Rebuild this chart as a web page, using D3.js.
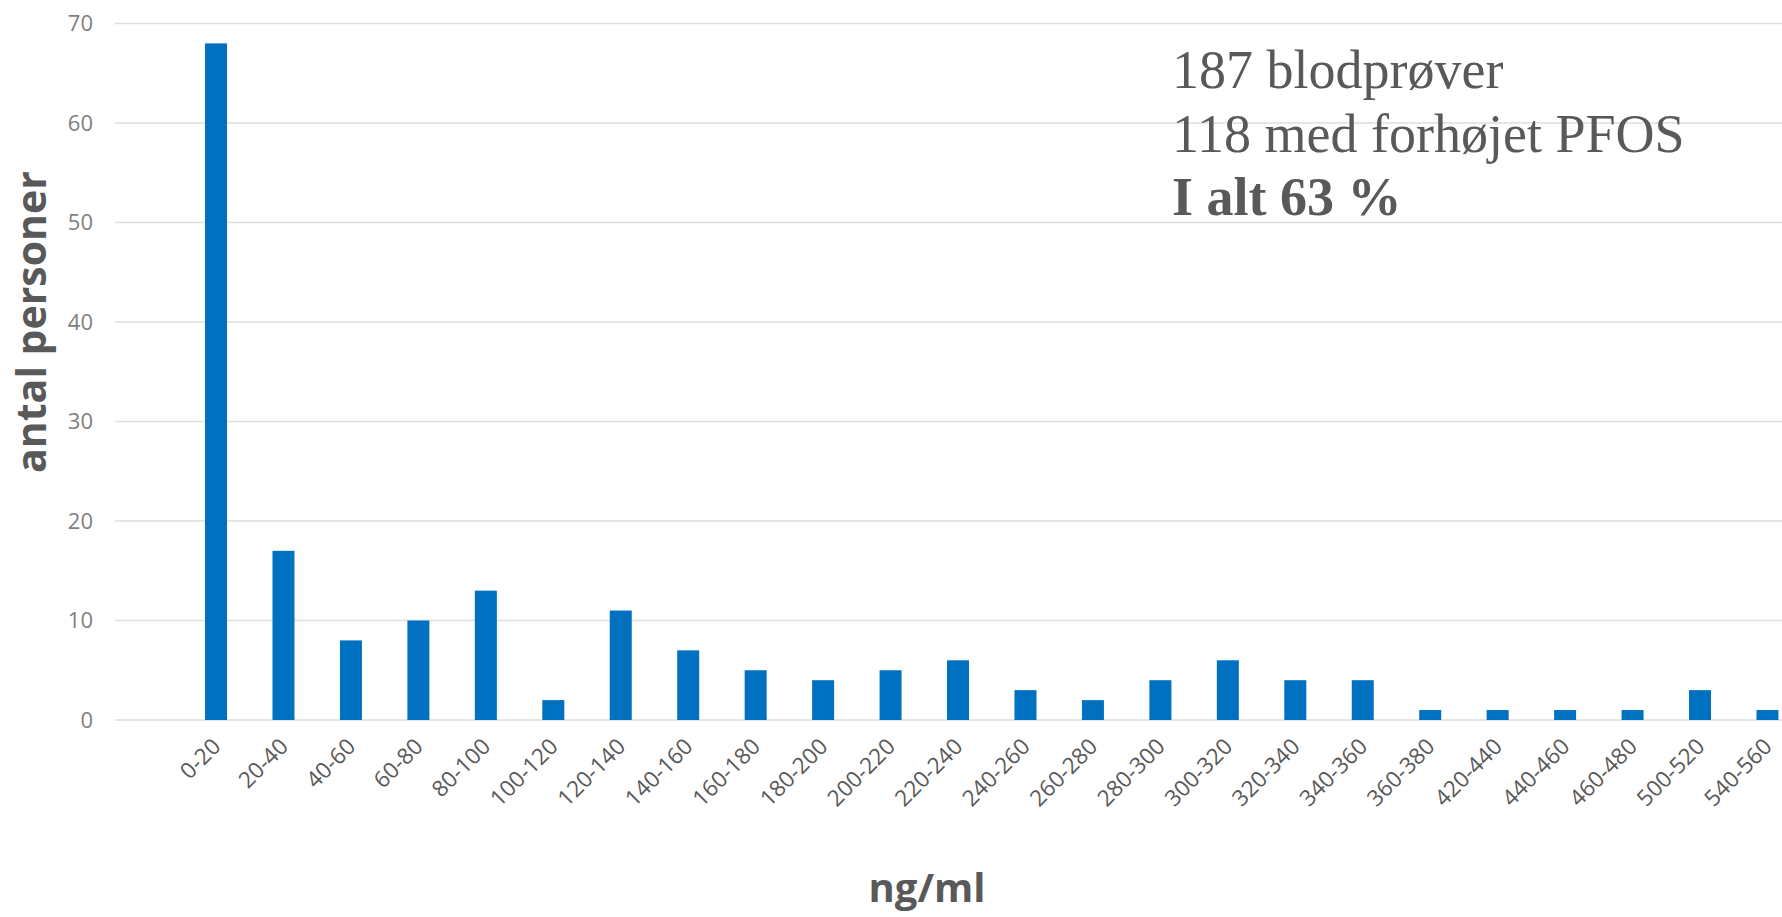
<!DOCTYPE html>
<html>
<head>
<meta charset="utf-8">
<script src="https://cdn.jsdelivr.net/npm/d3@7"></script>
<style>
    body { margin: 0; background: #fff; }
    svg { display: block; }
</style>
</head>
<body>
<div id="chart"></div>
<script>
const categories = ["0-20", "20-40", "40-60", "60-80", "80-100", "100-120", "120-140", "140-160",
    "160-180", "180-200", "200-220", "220-240", "240-260", "260-280", "280-300", "300-320",
    "320-340", "340-360", "360-380", "420-440", "440-460", "460-480", "500-520", "540-560"];
const counts = [68, 17, 8, 10, 13, 2, 11, 7, 5, 4, 5, 6, 3, 2, 4, 6, 4, 4, 1, 1, 1, 1, 3, 1];
const yTicks = [0, 10, 20, 30, 40, 50, 60, 70];
const noteLines = ["187 blodprøver", "118 med forhøjet PFOS", "I alt 63 %"];

const W = 1782, H = 917;
const gridLeft = 115;
const barPad = 0.674;

const svg = d3.select("#chart").append("svg")
    .attr("width", W)
    .attr("height", H);

const y = d3.scaleLinear()
    .domain([0, 70])
    .range([720, 23.5]);

const x = d3.scaleBand()
    .domain(categories)
    .range([182.3, 1801.2])
    .paddingInner(barPad)
    .paddingOuter(barPad / 2);

// gridlines
svg.append("g")
    .selectAll("line")
    .data(yTicks)
    .join("line")
    .attr("x1", gridLeft)
    .attr("x2", W)
    .attr("y1", d => y(d))
    .attr("y2", d => y(d))
    .attr("stroke", "#dedede")
    .attr("stroke-width", 1.5);

// y tick labels
svg.append("g")
    .selectAll("text")
    .data(yTicks)
    .join("text")
    .attr("x", 93)
    .attr("y", d => y(d))
    .attr("dy", "0.35em")
    .attr("text-anchor", "end")
    .attr("font-family", "'Open Sans', sans-serif")
    .attr("font-size", 22)
    .attr("fill", "#7f7f7f")
    .text(d => d);

// bars
svg.append("g")
    .selectAll("rect")
    .data(counts)
    .join("rect")
    .attr("x", (d, i) => x(categories[i]))
    .attr("width", x.bandwidth())
    .attr("y", d => y(d))
    .attr("height", d => y(0) - y(d))
    .attr("fill", "#0070c0");

// x labels, rotated
svg.append("g")
    .selectAll("text")
    .data(categories)
    .join("text")
    .attr("transform", d => `translate(${x(d) + x.bandwidth() / 2 + 6},${748}) rotate(-45)`)
    .attr("text-anchor", "end")
    .attr("font-family", "'Open Sans', sans-serif")
    .attr("font-size", 22.5)
    .attr("fill", "#595959")
    .text(d => d);

// axis titles
svg.append("text")
    .attr("transform", "translate(46,322) rotate(-90)")
    .attr("text-anchor", "middle")
    .attr("font-family", "'Open Sans', sans-serif")
    .attr("font-weight", "bold")
    .attr("font-size", 41)
    .attr("fill", "#595959")
    .text("antal personer");

svg.append("text")
    .attr("x", 927)
    .attr("y", 902)
    .attr("text-anchor", "middle")
    .attr("font-family", "'Open Sans', sans-serif")
    .attr("font-weight", "bold")
    .attr("font-size", 40)
    .attr("fill", "#595959")
    .text("ng/ml");

// note text
svg.append("g")
    .selectAll("text")
    .data(noteLines)
    .join("text")
    .attr("x", 1172)
    .attr("y", (d, i) => 88 + i * 63.5)
    .attr("font-family", "'Liberation Serif', 'Times New Roman', serif")
    .attr("font-size", 54)
    .attr("font-weight", (d, i) => i === 2 ? "bold" : "normal")
    .attr("fill", "#595959")
    .text(d => d);
</script>
</body>
</html>
